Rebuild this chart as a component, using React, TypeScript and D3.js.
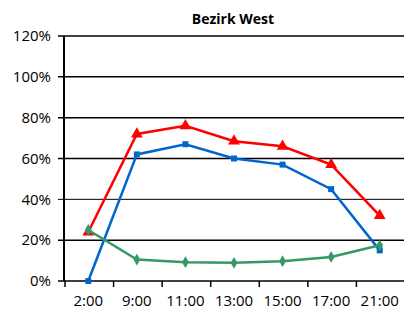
import React from "react";
import * as d3 from "d3";

const categories = ["2:00", "9:00", "11:00", "13:00", "15:00", "17:00", "21:00"];
const redValues = [24, 72, 76, 68.5, 66, 57, 32];
const blueValues = [0, 62, 67, 60, 57, 45, 15];
const greenValues = [25, 10.5, 9.2, 8.9, 9.7, 11.8, 17.5];
const yTicks = [0, 20, 40, 60, 80, 100, 120];

const width = 404;
const height = 312;
const margin = { top: 36, right: 0, bottom: 31, left: 64 };
const font = "'Open Sans', 'DejaVu Sans', sans-serif";

const App = () => {
  const x = d3
    .scaleBand()
    .domain(categories)
    .range([margin.left, width - margin.right]);
  const y = d3
    .scaleLinear()
    .domain([0, 120])
    .range([height - margin.bottom, margin.top]);

  const line = d3
    .line<number>()
    .x((d, i) => x(categories[i])! + x.bandwidth() / 2)
    .y((d) => y(d));

  const series = [
    { values: redValues, color: "#ff0000", marker: "triangle" },
    { values: blueValues, color: "#0066cc", marker: "square" },
    { values: greenValues, color: "#339966", marker: "diamond" },
  ];

  const symbolFor = (m: string) => {
    if (m === "triangle") return d3.symbol(d3.symbolTriangle, 60)();
    if (m === "square") return d3.symbol(d3.symbolSquare, 36)();
    return d3.symbol(d3.symbolDiamond, 40)();
  };

  const tickXs = categories.map((c) => x(c)!).concat([x.range()[1]]);

  return (
    <svg
      width={width}
      height={height}
      style={{ position: "absolute", left: 0, top: 0 }}
    >
      <rect width={width} height={height} fill="#fff" />
      <text
        x={233}
        y={24}
        textAnchor="middle"
        fontFamily={font}
        fontWeight="bold"
        fontSize={14}
      >
        Bezirk West
      </text>
      {yTicks.map((t) => (
        <g key={t}>
          <line
            x1={margin.left - 6}
            x2={width}
            y1={y(t)}
            y2={y(t)}
            stroke="#000"
            strokeWidth={t === 40 ? 1 : 1.5}
          />
          <text
            x={51}
            y={y(t)}
            dy="0.35em"
            textAnchor="end"
            fontFamily={font}
            fontSize={15}
            fill="#000"
          >
            {t}%
          </text>
        </g>
      ))}
      <line
        x1={margin.left}
        x2={margin.left}
        y1={y(120)}
        y2={y(0)}
        stroke="#000"
        strokeWidth={2}
      />
      {tickXs.map((tx, i) => (
        <line
          key={i}
          x1={tx + 1}
          x2={tx + 1}
          y1={y(0)}
          y2={y(0) + 6}
          stroke="#000"
          strokeWidth={1.5}
        />
      ))}
      {categories.map((c) => (
        <text
          key={c}
          x={x(c)! + x.bandwidth() / 2}
          y={306}
          textAnchor="middle"
          fontFamily={font}
          fontSize={15}
          fill="#000"
        >
          {c}
        </text>
      ))}
      {series.map((s, si) => (
        <g key={si}>
          <path
            d={line(s.values) || ""}
            fill="none"
            stroke={s.color}
            strokeWidth={2.5}
          />
          {s.values.map((v, i) => (
            <path
              key={i}
              d={symbolFor(s.marker) || ""}
              transform={`translate(${x(categories[i])! + x.bandwidth() / 2},${y(v)})`}
              fill={s.color}
            />
          ))}
        </g>
      ))}
    </svg>
  );
};

export default App;
